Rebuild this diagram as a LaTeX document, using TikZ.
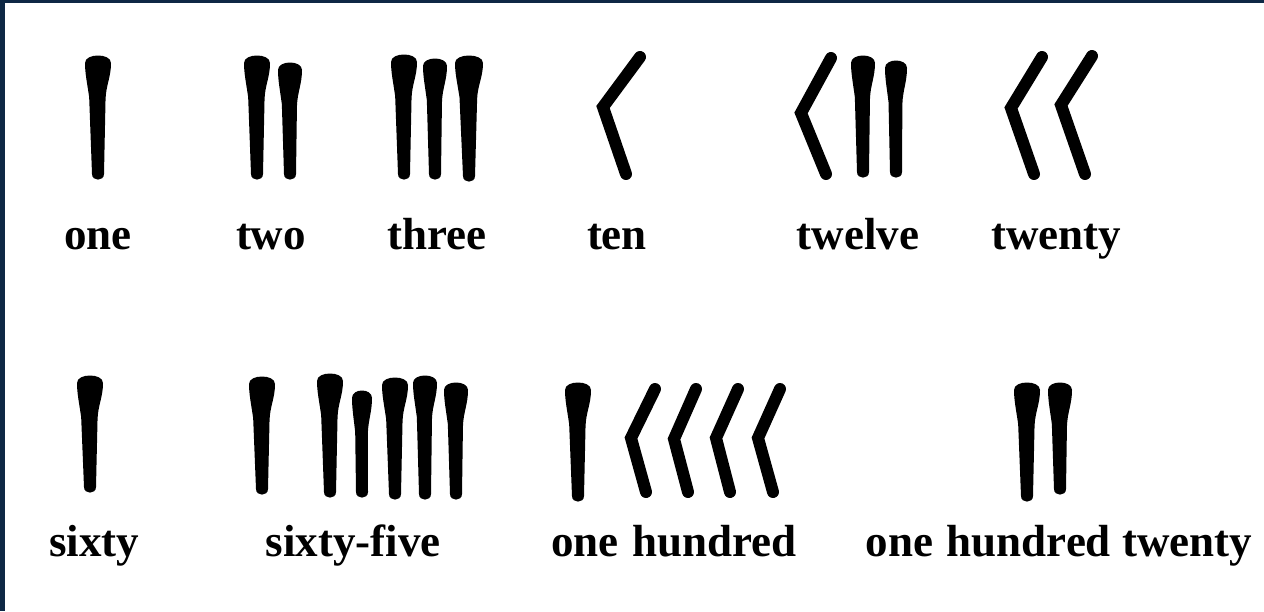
\documentclass[tikz,border=0pt]{standalone}
\usepackage{fontspec}
\setmainfont{Liberation Serif}
\definecolor{navy}{HTML}{0E2845}
\tikzset{
  lbl/.style={anchor=base, inner sep=0pt, font=\fontsize{45}{50}\selectfont\bfseries},
  ink/.style={fill=black},
  corner/.style={draw=black, line width=12pt, line join=miter, line cap=round}
}
\newcommand\wdg[4]{%
  \fill[ink] ({#1-#4},{#2+8}) .. controls ({#1-#4},{#2-2}) and ({#1+#4},{#2-2}) .. ({#1+#4},{#2+8})
    .. controls ({#1+#4},{#2+22}) and ({#1+0.62*#4},{#2+30}) .. ({#1+0.58*#4},{#2+44})
    -- ({#1+6},{#3-6})
    .. controls ({#1+6},{#3+1.5}) and ({#1-6},{#3+1.5}) .. ({#1-6},{#3-6})
    -- ({#1-0.68*#4},{#2+42})
    .. controls ({#1-0.85*#4},{#2+27}) and ({#1-#4},{#2+18}) .. cycle;}
\newcommand\chev[6]{%
  \draw[corner] (#1,#2) -- (#3,#4) -- (#5,#6);}
\begin{document}
\begin{tikzpicture}[x=1pt,y=-1pt]
\useasboundingbox (0,0) rectangle (1264,611);
\fill[white] (0,0) rectangle (1264,611);
\fill[navy] (0,0) rectangle (1264,3);
\fill[navy] (0,0) rectangle (5,611);
% Row 1 signs
\wdg{98}{55}{180}{13}
\wdg{257}{55}{180}{13}
\wdg{290}{62}{180}{12}
\wdg{404}{54}{180}{13}
\wdg{435}{58}{180}{12}
\wdg{469}{55}{182}{14}
\chev{640}{57}{603}{107}{626}{174}
\chev{831}{58}{801}{113}{826}{174}
\wdg{863}{55}{178}{12}
\wdg{896}{60}{178}{11}
\chev{1042}{57}{1011}{108}{1034}{174}
\chev{1092}{56}{1061}{105}{1085}{174}
% Row 1 labels
\node[lbl] (l1) at (98,249) {one};
\node[lbl] (l2) at (271,249) {two};
\node[lbl] (l3) at (437,249) {three};
\node[lbl] (l10) at (617,249) {ten};
\node[lbl] (l12) at (858,249) {twelve};
\node[lbl] (l20) at (1056,249) {twenty};
% Row 2 signs
\wdg{90}{375}{493}{13}
\wdg{262}{376}{495}{13}
\wdg{330}{373}{498}{13}
\wdg{362}{390}{498}{10}
\wdg{395}{377}{500}{13}
\wdg{425}{375}{500}{12}
\wdg{456}{382}{500}{12}
\wdg{578}{382}{502}{13}
\chev{655}{389}{631}{438}{646}{492}
\chev{696}{389}{674}{439}{688}{492}
\chev{738}{389}{716}{438}{730}{492}
\chev{780}{389}{758}{438}{773}{492}
\wdg{1027}{382}{502}{13}
\wdg{1060}{382}{495}{12}
% Row 2 labels
\node[lbl] (l60) at (94,556) {sixty};
\node[lbl] (l65) at (353,556) {sixty-five};
\node[lbl] (l100) at (674,556) {one\hspace{0.3em}hundred};
\node[lbl] (l120) at (1059,556) {one\hspace{0.3em}hundred twenty};
\end{tikzpicture}
\end{document}
